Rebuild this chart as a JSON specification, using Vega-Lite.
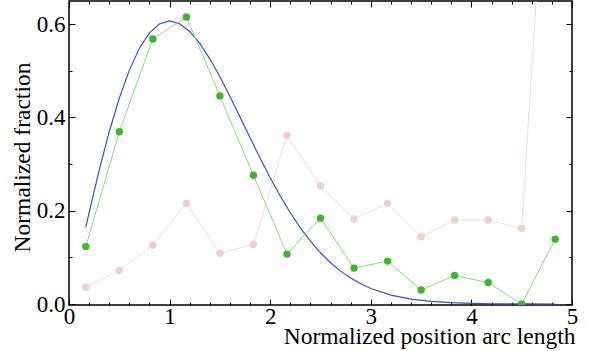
{
  "$schema": "https://vega.github.io/schema/vega-lite/v6.json",
  "width": 503,
  "height": 304,
  "autosize": "none",
  "padding": {"left": 69, "top": 1, "right": 17, "bottom": 46},
  "background": "white",
  "config": {
    "view": {"stroke": "black", "strokeWidth": 1.5},
    "axis": {
      "labelFont": "Liberation Serif",
      "titleFont": "Liberation Serif",
      "labelColor": "black",
      "titleColor": "black",
      "tickColor": "black",
      "domain": false,
      "grid": false,
      "labelFontSize": 23,
      "titleFontSize": 23.5,
      "titleFontWeight": "normal",
      "tickWidth": 1,
      "labelFlush": false,
      "labelOverlap": false
    }
  },
  "datasets": {
    "green": [
      {"x": 0.167, "y": 0.123}, {"x": 0.5, "y": 0.369}, {"x": 0.833, "y": 0.568},
      {"x": 1.167, "y": 0.615}, {"x": 1.5, "y": 0.446}, {"x": 1.833, "y": 0.276},
      {"x": 2.167, "y": 0.107}, {"x": 2.5, "y": 0.184}, {"x": 2.833, "y": 0.077},
      {"x": 3.167, "y": 0.092}, {"x": 3.5, "y": 0.030}, {"x": 3.833, "y": 0.061},
      {"x": 4.167, "y": 0.046}, {"x": 4.5, "y": 0.0}, {"x": 4.833, "y": 0.139}
    ],
    "pink": [
      {"x": 0.167, "y": 0.036}, {"x": 0.5, "y": 0.072}, {"x": 0.833, "y": 0.126},
      {"x": 1.167, "y": 0.216}, {"x": 1.5, "y": 0.109}, {"x": 1.833, "y": 0.128},
      {"x": 2.167, "y": 0.361}, {"x": 2.5, "y": 0.253}, {"x": 2.833, "y": 0.182},
      {"x": 3.167, "y": 0.216}, {"x": 3.5, "y": 0.144}, {"x": 3.833, "y": 0.180},
      {"x": 4.167, "y": 0.180}, {"x": 4.5, "y": 0.162}, {"x": 4.833, "y": 1.30}
    ],
    "fit": [
      {"x": 0.167, "y": 0.1647}, {"x": 0.2, "y": 0.196}, {"x": 0.3, "y": 0.2868},
      {"x": 0.4, "y": 0.3692}, {"x": 0.5, "y": 0.4412}, {"x": 0.6, "y": 0.5012},
      {"x": 0.7, "y": 0.548}, {"x": 0.8, "y": 0.5809}, {"x": 0.9, "y": 0.6003},
      {"x": 1.0, "y": 0.6065}, {"x": 1.1, "y": 0.6007}, {"x": 1.2, "y": 0.5841},
      {"x": 1.3, "y": 0.5585}, {"x": 1.4, "y": 0.5254}, {"x": 1.5, "y": 0.487},
      {"x": 1.6, "y": 0.4448}, {"x": 1.7, "y": 0.4007}, {"x": 1.8, "y": 0.3562},
      {"x": 1.9, "y": 0.3125}, {"x": 2.0, "y": 0.2707}, {"x": 2.1, "y": 0.2316},
      {"x": 2.2, "y": 0.1956}, {"x": 2.3, "y": 0.1633}, {"x": 2.4, "y": 0.1347},
      {"x": 2.5, "y": 0.1098}, {"x": 2.6, "y": 0.0885}, {"x": 2.7, "y": 0.0705},
      {"x": 2.8, "y": 0.0556}, {"x": 2.9, "y": 0.0433}, {"x": 3.0, "y": 0.0333},
      {"x": 3.2, "y": 0.0191}, {"x": 3.4, "y": 0.0105}, {"x": 3.6, "y": 0.0055},
      {"x": 3.8, "y": 0.0028}, {"x": 4.0, "y": 0.0013}, {"x": 4.2, "y": 0.0006},
      {"x": 4.4, "y": 0.0003}, {"x": 4.6, "y": 0.0001}, {"x": 4.833, "y": 0.0}
    ]
  },
  "layer": [
    {
      "data": {"name": "pink"},
      "mark": {"type": "line", "color": "#efdcd8", "strokeWidth": 1, "clip": true},
      "encoding": {
        "x": {"field": "x", "type": "quantitative", "scale": {"domain": [0, 5], "nice": false, "zero": false},
          "axis": {"orient": "top", "values": [0.2,0.4,0.6,0.8,1.2,1.4,1.6,1.8,2.2,2.4,2.6,2.8,3.2,3.4,3.6,3.8,4.2,4.4,4.6,4.8], "labels": false, "tickSize": 3, "offset": -3, "title": null}},
        "y": {"field": "y", "type": "quantitative", "scale": {"domain": [-0.0021, 0.6493], "nice": false, "zero": false},
          "axis": {"orient": "right", "values": [0.1, 0.3, 0.5], "labels": false, "tickSize": 3, "offset": -3, "title": null}}
      }
    },
    {
      "data": {"name": "pink"},
      "mark": {"type": "circle", "color": "#ecd0ca", "size": 55, "opacity": 1, "clip": true},
      "encoding": {
        "x": {"field": "x", "type": "quantitative",
          "axis": {"orient": "bottom", "values": [0.2,0.4,0.6,0.8,1.2,1.4,1.6,1.8,2.2,2.4,2.6,2.8,3.2,3.4,3.6,3.8,4.2,4.4,4.6,4.8], "labels": false, "tickSize": 3, "offset": -3, "title": null}},
        "y": {"field": "y", "type": "quantitative",
          "axis": {"orient": "left", "values": [0.1, 0.3, 0.5], "labels": false, "tickSize": 3, "offset": -3, "title": null}}
      }
    },
    {
      "data": {"name": "fit"},
      "mark": {"type": "line", "color": "#3552c6", "strokeWidth": 1.2, "clip": true},
      "encoding": {
        "x": {"field": "x", "type": "quantitative", "scale": {"domain": [0, 5], "nice": false, "zero": false},
          "axis": {"orient": "bottom", "values": [0, 1, 2, 3, 4, 5], "format": "d", "ticks": false, "tickSize": 0, "labelPadding": 0,
            "title": "Normalized position arc length", "titleAnchor": "end", "titleAlign": "right", "titleBaseline": "alphabetic", "titleX": 506, "titleY": 38}},
        "y": {"field": "y", "type": "quantitative", "scale": {"domain": [-0.0021, 0.6493], "nice": false, "zero": false},
          "axis": {"orient": "left", "values": [0, 0.2, 0.4, 0.6], "format": ".1f", "ticks": false, "tickSize": 0, "labelPadding": 4,
            "title": "Normalized fraction", "titleAngle": 270, "titleAlign": "center", "titleBaseline": "middle", "titleX": -47, "titleY": 156}}
      }
    },
    {
      "data": {"name": "green"},
      "mark": {"type": "line", "color": "#8ed680", "strokeWidth": 1, "clip": true},
      "encoding": {
        "x": {"field": "x", "type": "quantitative",
          "axis": {"orient": "top", "values": [0, 1, 2, 3, 4, 5], "labels": false, "tickSize": 6, "offset": -6, "title": null}},
        "y": {"field": "y", "type": "quantitative",
          "axis": {"orient": "right", "values": [0, 0.2, 0.4, 0.6], "labels": false, "tickSize": 6, "offset": -6, "title": null}}
      }
    },
    {
      "data": {"name": "green"},
      "mark": {"type": "circle", "color": "#3db52c", "size": 55, "opacity": 1, "clip": true},
      "encoding": {
        "x": {"field": "x", "type": "quantitative",
          "axis": {"orient": "bottom", "values": [0, 1, 2, 3, 4, 5], "labels": false, "tickSize": 6, "offset": -6, "title": null}},
        "y": {"field": "y", "type": "quantitative",
          "axis": {"orient": "left", "values": [0, 0.2, 0.4, 0.6], "labels": false, "tickSize": 6, "offset": -6, "title": null}}
      }
    }
  ],
  "resolve": {"axis": {"x": "independent", "y": "independent"}}
}
